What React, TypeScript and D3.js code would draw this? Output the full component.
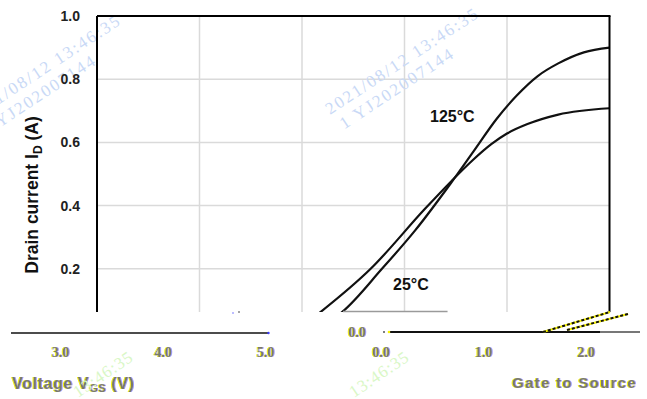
import React from "react";
import * as d3 from "d3";

const yTicks = [0.2, 0.4, 0.6, 0.8, 1.0];
const xGrid = [1, 2, 3, 4];
const vgs125 = [1.6, 1.9, 2.05, 2.18, 2.67, 3.2, 3.45, 3.67, 3.85, 4.0, 4.2, 4.5, 5.0];
const id125 = [0, 0.01, 0.03, 0.063, 0.2, 0.39, 0.475, 0.545, 0.595, 0.628, 0.658, 0.688, 0.708];
const vgs25 = [1.9, 2.1, 2.25, 2.39, 2.78, 3.1, 3.45, 3.67, 3.9, 4.1, 4.3, 4.5, 4.75, 5.0];
const id25 = [0, 0.01, 0.03, 0.063, 0.2, 0.32, 0.47, 0.57, 0.675, 0.75, 0.81, 0.85, 0.885, 0.9];
const leftPieceTicks = [3, 4, 5];
const rightPieceTicks = [0, 1, 2];
const labels = ["125°C", "25°C"];

const W = 647, H = 399;
const SANS = "Liberation Sans, Arial, sans-serif";
const SERIF = "Liberation Serif, serif";

export default function App() {
  const x = d3.scaleLinear().domain([0, 5]).range([97, 609.5]);
  const y = d3.scaleLinear().domain([0, 1]).range([332, 16]);
  const clipBottom = 312;
  const line = d3
    .line<[number, number]>()
    .x((d) => x(d[0]))
    .y((d) => y(d[1]))
    .curve(d3.curveMonotoneX);
  const d125 = line(vgs125.map((v, i) => [v, id125[i]]) as [number, number][]) || "";
  const d25 = line(vgs25.map((v, i) => [v, id25[i]]) as [number, number][]) || "";
  const leftOff = -344;
  const rightOff = 284;
  const wm = "#c9d9f6";
  const green = "#d9f7c6";
  const fringeFill = "#7a7a6a";

  return (
    <svg width={W} height={H} style={{ position: "absolute", left: 0, top: 0, background: "#fff" }}>
      <defs>
        <clipPath id="plot">
          <rect x={x(0)} y={y(1)} width={x(5) - x(0)} height={clipBottom - y(1)} />
        </clipPath>
        <filter id="fringe" x="-10%" y="-30%" width="120%" height="160%">
          <feOffset in="SourceAlpha" dx={-1} dy={0} result="a" />
          <feFlood floodColor="#f5f000" result="fy" />
          <feComposite in="fy" in2="a" operator="in" result="yel" />
          <feOffset in="SourceAlpha" dx={1} dy={0} result="b" />
          <feFlood floodColor="#3a3aff" floodOpacity={0.5} result="fb" />
          <feComposite in="fb" in2="b" operator="in" result="blu" />
          <feMerge>
            <feMergeNode in="yel" />
            <feMergeNode in="blu" />
            <feMergeNode in="SourceGraphic" />
          </feMerge>
        </filter>
      </defs>
      {/* grid */}
      <g clipPath="url(#plot)">
        {yTicks.slice(0, 4).map((t) => (
          <line key={"h" + t} x1={x(0)} x2={x(5)} y1={y(t)} y2={y(t)} stroke="#dadada" strokeWidth={1.5} />
        ))}
        {xGrid.map((t) => (
          <line key={"v" + t} x1={x(t)} x2={x(t)} y1={y(1)} y2={clipBottom} stroke="#dadada" strokeWidth={1.5} />
        ))}
      </g>
      {/* watermarks */}
      <g fontFamily={SERIF} fontSize={17} fill={wm} letterSpacing={2} style={{ whiteSpace: "pre" }}>
        <g transform="translate(330,115) rotate(-33.3)">
          <text x={0} y={0}>{"2021/08/12  13:46:35"}</text>
          <text x={4} y={20}>{"1  YJ202007144"}</text>
        </g>
        <g transform="translate(-28,122) rotate(-33.3)">
          <text x={0} y={0}>{"2021/08/12  13:46:35"}</text>
          <text x={4} y={20}>{"1  YJ202007144"}</text>
        </g>
      </g>
      {/* curves */}
      <g clipPath="url(#plot)" fill="none" stroke="#111" strokeWidth={2.2}>
        <path d={d125} />
        <path d={d25} />
      </g>
      {/* frame */}
      <line x1={x(0)} x2={x(5) + 1} y1={y(1)} y2={y(1)} stroke="#000" strokeWidth={2} />
      <line x1={x(0)} x2={x(0)} y1={y(1)} y2={clipBottom} stroke="#000" strokeWidth={2} />
      <line x1={x(5)} x2={x(5)} y1={y(1)} y2={clipBottom} stroke="#000" strokeWidth={2} />
      <line x1={x(2.4)} x2={x(3.42)} y1={311.5} y2={311.5} stroke="#9a9a9a" strokeWidth={1.5} />
      {/* y tick labels */}
      {yTicks.map((t) => (
        <text key={"yl" + t} x={80} y={y(t) + 5} textAnchor="end" fontFamily={SANS} fontWeight="bold" fontSize={14} fill="#222">
          {t.toFixed(1)}
        </text>
      ))}
      {/* y axis title */}
      <text transform={`translate(37.5,195) rotate(-90)`} textAnchor="middle" fontFamily={SANS} fontWeight="bold" fontSize={17.5} fill="#111">
        Drain current I<tspan fontSize={12} dy={4}>D</tspan><tspan dy={-4}> (A)</tspan>
      </text>
      {/* curve labels */}
      <text x={430} y={122} fontFamily={SANS} fontWeight="bold" fontSize={16} fill="#111">{labels[0]}</text>
      <text x={393} y={290} fontFamily={SANS} fontWeight="bold" fontSize={16} fill="#111">{labels[1]}</text>

      {/* displaced bottom strip */}
      <line x1={11} x2={x(5) + leftOff + 3} y1={333} y2={333} stroke="#111" strokeWidth={1.6} />
      <circle cx={x(5) + leftOff + 3} cy={333} r={1.2} fill="#3a3aff" />
      <line x1={388} x2={640} y1={332} y2={332} stroke="#111" strokeWidth={1.8} />
      <line x1={600} x2={640} y1={332} y2={332} stroke="#777" strokeWidth={1.8} />
      <circle cx={384} cy={332} r={1} fill="#555" />
      <circle cx={389} cy={332} r={1.3} fill="#f5f000" />
      <g strokeWidth={2} fill="none">
        <line x1={543} y1={332} x2={610} y2={312} stroke="#f5f000" />
        <line x1={543} y1={332} x2={610} y2={312} stroke="#111" strokeDasharray="3 2" />
        <line x1={567} y1={330} x2={628} y2={314} stroke="#f5f000" />
        <line x1={567} y1={330} x2={628} y2={314} stroke="#111" strokeDasharray="3 2" />
      </g>
      <circle cx={233} cy={313} r={0.8} fill="#6a6aff" />
      <circle cx={239} cy={312} r={0.8} fill="#333" />
      <g filter="url(#fringe)" fill={fringeFill}>
        <text x={357} y={337} fontFamily={SERIF} fontWeight="bold" fontSize={14} textAnchor="middle">0.0</text>
        {leftPieceTicks.map((t) => (
          <text key={"lt" + t} x={x(t) + leftOff} y={357} fontFamily={SERIF} fontWeight="bold" fontSize={14} textAnchor="middle">
            {t.toFixed(1)}
          </text>
        ))}
        {rightPieceTicks.map((t) => (
          <text key={"rt" + t} x={x(t) + rightOff} y={357} fontFamily={SERIF} fontWeight="bold" fontSize={14} textAnchor="middle">
            {t.toFixed(1)}
          </text>
        ))}
        <text x={12} y={389} fontFamily={SANS} fontWeight="bold" fontSize={16} letterSpacing={0.6}>
          Voltage V<tspan fontSize={11} dy={3}>GS</tspan><tspan dy={-3}> (V)</tspan>
        </text>
        <text x={512} y={388} fontFamily={SANS} fontWeight="bold" fontSize={15} letterSpacing={1.3}>Gate to Source</text>
      </g>
      {/* green watermark */}
      <g fontFamily={SERIF} fontSize={17} fill={green} letterSpacing={1}>
        <text transform="translate(78,398) rotate(-34)">13:46:35</text>
        <text transform="translate(354,398) rotate(-34)">13:46:35</text>
      </g>
    </svg>
  );
}
